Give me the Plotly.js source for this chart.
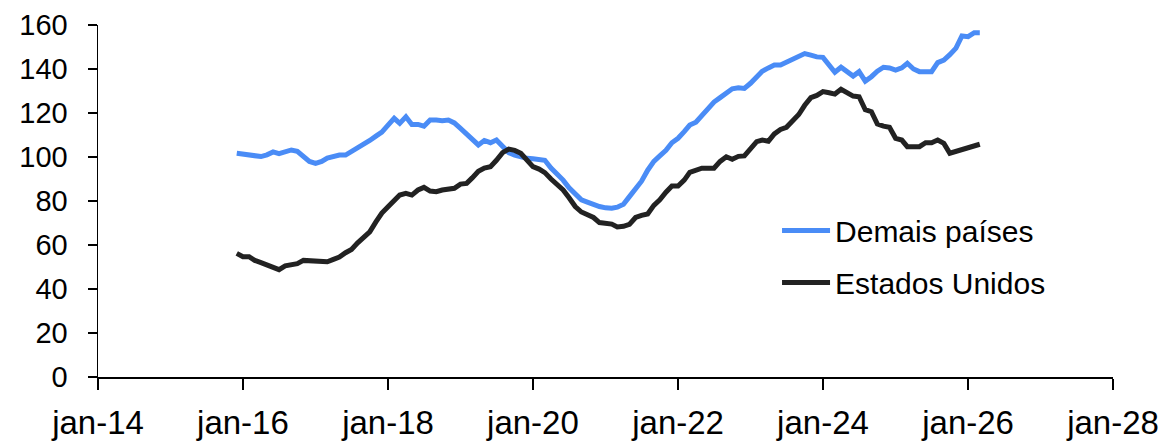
<!DOCTYPE html>
<html>
<head>
<meta charset="utf-8">
<script src="https://cdn.plot.ly/plotly-3.0.1.min.js"></script>
<style>
html,body{margin:0;padding:0;background:#fff;}
#chart{width:1169px;height:443px;}
</style>
</head>
<body>
<div id="chart"></div>
<script>
// Monthly series, Dec-2015 .. Mar-2026
const startYear = 2015, startMonth = 12;
const demaisPaises = [
101.7,
101.3,101.0,100.8,100.2,101.0,102.3,101.5,102.5,103.2,102.6,100.5,98.0,
97.1,98.0,99.5,100.5,100.9,100.9,102.5,104.0,105.5,107.5,109.5,111.3,
114.5,117.6,115.3,118.3,114.8,114.8,114.0,116.8,116.8,116.5,116.8,115.5,
113.0,110.5,108.0,105.5,107.5,106.5,107.7,104.5,102.0,100.8,99.8,99.4,
99.2,98.8,98.5,95.0,92.5,89.5,86.0,83.0,80.5,79.5,78.3,77.5,
76.9,76.7,77.2,78.5,82.0,85.5,89.0,94.0,98.0,100.5,103.0,106.5,
108.5,111.5,114.5,115.8,119.0,122.5,125.0,127.0,129.0,131.0,131.5,131.2,
133.5,136.5,139.0,140.5,141.8,141.8,143.2,144.2,145.5,147.0,146.3,145.5,
145.3,141.8,138.5,140.8,138.5,136.8,138.8,134.5,136.5,139.0,140.8,140.5,
139.5,140.5,142.6,140.0,138.8,138.8,138.8,142.9,144.0,146.5,149.5,155.0,
154.7,156.5,156.5
];
const estadosUnidos = [
56.2,
54.7,54.7,53.0,52.0,51.0,49.8,48.8,50.5,50.9,51.5,53.0,52.8,
52.7,52.5,52.4,53.5,54.5,56.5,58.0,61.0,63.5,66.0,70.5,74.5,
77.4,80.5,82.7,83.5,82.7,85.0,86.2,84.5,84.2,85.0,85.5,85.8,
87.7,88.0,90.5,93.5,95.0,95.6,98.5,102.0,103.6,103.0,101.7,99.0,
95.6,94.5,92.9,90.0,87.5,85.0,81.5,77.5,75.0,73.5,72.5,70.2,
69.9,69.5,68.2,68.5,69.4,72.5,73.5,74.1,78.0,80.5,84.0,86.8,
86.8,89.5,93.0,94.0,94.9,94.9,94.9,98.0,100.1,99.0,100.3,100.5,
103.9,107.0,107.7,107.2,110.5,112.5,113.5,116.5,119.3,123.5,127.0,128.0,
129.7,129.2,128.6,130.8,129.0,127.7,127.4,121.5,120.6,115.0,114.0,113.5,
108.5,107.7,104.7,104.7,104.7,106.5,106.5,107.7,106.2,101.7,102.5,103.2,
104.5,105.0,105.8
];
const tickDates = ['2014-01-01','2016-01-01','2018-01-01','2020-01-01','2022-01-01','2024-01-01','2026-01-01','2028-01-01'];
const tickLabels = ['jan-14','jan-16','jan-18','jan-20','jan-22','jan-24','jan-26','jan-28'];
const seriesNames = ['Demais países','Estados Unidos'];

const dates = [];
for (let i = 0; i < demaisPaises.length; i++) {
  const t = (startMonth - 1) + i;
  const y = startYear + Math.floor(t / 12);
  const m = (t % 12) + 1;
  dates.push(y + '-' + String(m).padStart(2, '0') + '-01');
}

const font = 'Liberation Sans, Arial, sans-serif';
const traces = [
  {x: dates, y: demaisPaises, name: seriesNames[0], type: 'scatter', mode: 'lines',
   line: {color: '#4a8cf6', width: 5}, legendgroup: 'a'},
  {x: dates, y: estadosUnidos, name: seriesNames[1], type: 'scatter', mode: 'lines',
   line: {color: '#222222', width: 5}, legendgroup: 'b'}
];
const layout = {
  width: 1169, height: 443,
  margin: {l: 98, r: 56, t: 25, b: 66},
  paper_bgcolor: '#fff', plot_bgcolor: '#fff',
  font: {family: font, color: '#000'},
  showlegend: true,
  legend: {x: 0.669, y: 0.49, xanchor: 'left', yanchor: 'top', bgcolor: 'rgba(0,0,0,0)',
           font: {size: 30, family: font, color: '#000'}, traceorder: 'grouped', tracegroupgap: 10,
           itemwidth: 48},
  xaxis: {
    type: 'date', range: ['2014-01-01', '2028-01-01'],
    tickvals: tickDates, ticktext: tickLabels,
    showgrid: false, zeroline: false, showline: true, linecolor: '#000', linewidth: 1.5,
    ticks: 'outside', ticklen: 11, tickwidth: 1.5, tickcolor: '#000',
    tickfont: {size: 33, family: font, color: '#000'}, ticklabelstandoff: 5
  },
  yaxis: {
    range: [0, 160], tickvals: [0,20,40,60,80,100,120,140,160],
    showgrid: false, zeroline: false, showline: true, linecolor: '#000', linewidth: 1.5,
    ticks: 'outside', ticklen: 9, tickwidth: 1.5, tickcolor: '#000',
    tickfont: {size: 29, family: font, color: '#000'}, ticklabelstandoff: 14
  }
};
Plotly.newPlot('chart', traces, layout, {staticPlot: true, displayModeBar: false});
</script>
</body>
</html>
